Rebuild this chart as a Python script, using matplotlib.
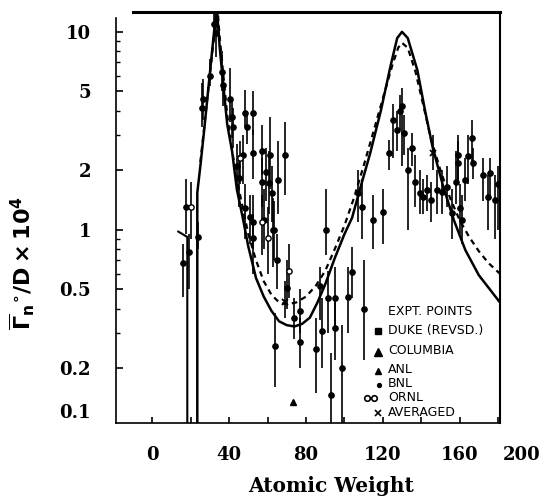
from matplotlib import pyplot as plt
from matplotlib.ticker import FixedLocator, NullFormatter
import numpy as np

# s-wave strength function vs atomic weight

# theory curves
solid_A = [23.4, 23.4, 25, 27, 29, 31, 33.5, 35, 37, 39, 41.5, 44, 47, 50, 54, 58, 62, 66,
           70, 74, 78, 82, 86, 90, 95, 100, 104, 108, 113.5, 119, 124, 127.5, 130, 133,
           138, 142, 146, 151.5, 157, 163, 170, 181]
solid_val = [0.09, 1.54, 2.1, 3.2, 5.0, 7.8, 13.5, 8.5, 5.3, 3.4, 2.5, 1.6, 1.16, 0.82,
             0.57, 0.46, 0.39, 0.345, 0.33, 0.325, 0.335, 0.36, 0.43, 0.53, 0.72, 0.95,
             1.15, 1.59, 2.45, 4.0, 6.7, 9.3, 10.0, 9.3, 6.4, 4.0, 2.6, 1.65, 1.12, 0.79,
             0.59, 0.43]

dash_A = [25, 27, 29, 31, 33, 34, 35, 37, 39, 41, 44, 47, 50, 54, 58, 62, 66, 70, 75, 80,
          85, 90, 95, 100, 105, 110, 115, 120, 125, 128, 130, 133, 137, 141, 145, 150,
          155, 160, 165, 170, 175, 181]
dash_val = [2.2, 3.3, 5.0, 7.5, 11.5, 13.0, 9.5, 6.0, 3.8, 2.7, 1.8, 1.3, 0.95, 0.7, 0.55,
            0.47, 0.43, 0.42, 0.43, 0.46, 0.52, 0.62, 0.8, 1.05, 1.45, 2.1, 3.1, 4.6, 6.8,
            8.3, 8.8, 8.3, 6.3, 4.3, 2.9, 2.0, 1.45, 1.12, 0.92, 0.78, 0.68, 0.6]

# low-A stub of the dashed curve
stub_A = [13.5, 18.2, 18.2]
stub_val = [0.98, 0.92, 0.09]

# BNL points: A, value, error bar low, error bar high
bnl_A = [16, 17.5, 19, 24, 26, 26.5, 30, 32, 33, 36.5, 37, 40.5, 41.5, 42, 44, 45,
         47, 48.4, 48.4, 49.5, 51, 52.6, 52.6, 52.6, 52.6, 57, 57, 58, 59, 60.5,
         61.5, 62.5, 63, 63.5, 64, 65, 65.6, 69, 70, 73.5, 77, 77, 85, 87.5, 88.5,
         90.6, 91.7, 93, 95, 95, 99, 102, 104, 107, 109, 110, 115, 120, 123, 125.5,
         127.6, 129, 130, 131, 133, 135, 137, 139.6, 141, 143, 145, 148, 151, 153.6,
         156, 158, 159, 159.4, 160, 161.5, 163, 164.6, 166.7, 167, 172, 175, 176,
         178.6, 180]
bnl_val = [0.68, 1.3, 0.77, 0.92, 4.1, 4.6, 6.0, 11.0, 9.9, 6.3, 5.4, 4.6, 3.7, 3.3, 2.1,
           1.83, 2.4, 3.9, 1.29, 3.3, 1.16, 3.9, 2.45, 1.1, 0.91, 2.5, 1.75, 1.12, 1.97,
           1.73, 2.4, 1.54, 1.0, 1.0, 0.26, 0.7, 1.79, 2.4, 0.51, 0.36, 0.39, 0.27, 0.25,
           0.52, 0.31, 1.0, 0.45, 0.147, 0.45, 0.32, 0.2, 0.46, 0.61, 1.54, 1.3, 0.4, 1.12,
           1.23, 2.45, 3.6, 3.2, 4.0, 4.2, 3.1, 2.0, 2.6, 1.75, 1.54, 1.47, 1.59, 1.42,
           1.59, 1.56, 1.65, 1.22, 1.75, 2.4, 2.18, 1.29, 1.12, 1.79, 2.35, 2.9, 2.18, 1.9,
           1.47, 1.94, 1.42, 1.7]
bnl_lo = [0.46, 0.95, 0.5, 0.8, 3.3, 3.6, 5.3, 9.0, 7.5, 5.0, 4.2, 3.5, 2.9, 2.6, 1.6, 1.3,
          1.7, 3.3, 0.9, 2.7, 0.85, 3.0, 1.8, 0.8, 0.6, 1.9, 1.3, 0.8, 1.4, 1.2, 1.6, 1.1,
          0.65, 0.7, 0.16, 0.5, 1.2, 1.5, 0.4, 0.28, 0.3, 0.2, 0.15, 0.35, 0.2, 0.75, 0.3,
          0.05, 0.33, 0.22, 0.05, 0.3, 0.45, 1.1, 0.9, 0.22, 0.8, 0.85, 2.0, 2.3, 2.5, 3.2,
          2.1, 2.4, 1.0, 2.1, 1.3, 1.2, 1.2, 1.25, 1.1, 1.2, 1.2, 1.3, 0.9, 1.35, 1.8, 1.7,
          0.95, 0.85, 1.4, 1.7, 2.2, 1.8, 1.4, 1.0, 1.5, 0.9, 1.0]
bnl_hi = [0.85, 1.8, 0.95, 1.1, 5.5, 5.8, 7.3, 12.6, 12.6, 8.0, 6.5, 6.6, 4.5, 4.1, 2.7,
          2.4, 3.0, 5.1, 1.7, 3.9, 1.5, 5.0, 3.2, 1.5, 1.2, 3.4, 2.3, 1.6, 2.6, 2.5, 3.7,
          2.1, 1.45, 1.4, 0.38, 0.95, 2.8, 3.5, 0.7, 0.45, 0.5, 0.36, 0.36, 0.65, 0.45, 1.6,
          0.62, 0.24, 0.65, 0.45, 0.33, 0.65, 0.82, 2.0, 1.8, 0.7, 1.5, 1.6, 2.85, 4.3, 4.0,
          4.8, 5.2, 3.8, 2.6, 3.1, 2.4, 2.0, 1.8, 1.9, 1.75, 2.0, 2.0, 2.1, 1.6, 2.5, 3.0,
          2.8, 1.7, 1.5, 2.3, 3.0, 3.6, 2.6, 2.3, 1.9, 2.3, 1.9, 2.1]

# ORNL points (open circles)
ornl_A = [20, 45.8, 57, 60, 71]
ornl_val = [1.3, 2.3, 1.1, 0.91, 0.62]
ornl_lo = [0.9, 1.7, 0.75, 0.6, 0.45]
ornl_hi = [1.75, 2.8, 1.5, 1.3, 0.85]

# averaged points
avg_A = [69, 146]
avg_val = [0.43, 2.45]
avg_lo = [0.36, 2.0]
avg_hi = [0.55, 3.0]

# ANL triangle
anl_A = [73]
anl_val = [0.135]

x_major = [0, 20, 40, 60, 80, 100, 120, 140, 160, 180]
x_labels = ['0', '', '40', '', '80', '', '120', '', '160', '']
y_major = [0.2, 0.5, 1, 2, 5, 10]
y_labels = ['0.2', '0.5', '1', '2', '5', '10']
y_minor = [0.3, 0.4, 0.6, 0.7, 0.8, 0.9, 3, 4, 6, 7, 8, 9]

legend_rows = ['DUKE (REVSD.)', 'COLUMBIA', 'ANL', 'BNL', 'ORNL', 'AVERAGED']

serif = {'family': 'DejaVu Serif', 'weight': 'bold', 'size': 13}

fig = plt.figure(figsize=(5.44, 4.98), dpi=100)
ax = fig.add_axes([0.213, 0.151, 0.706, 0.825])
ax.set_yscale('log')
ax.set_xlim(-19, 181)
ax.set_ylim(0.106, 12.6)

# curves
ax.plot(solid_A, solid_val, color='black', lw=1.8)
ax.plot(dash_A, dash_val, color='black', lw=1.6, ls=(0, (2.5, 2)))
ax.plot(stub_A, stub_val, color='black', lw=1.5)

# points
def bars(A, val, lo, hi):
    v = np.array(val)
    return [v - np.array(lo), np.array(hi) - v]

ax.errorbar(bnl_A, bnl_val, yerr=bars(bnl_A, bnl_val, bnl_lo, bnl_hi), fmt='o',
            color='black', ms=3.8, elinewidth=1.2, capsize=0)
ax.errorbar(ornl_A, ornl_val, yerr=bars(ornl_A, ornl_val, ornl_lo, ornl_hi), fmt='o',
            color='black', mfc='white', ms=3.8, mew=1.0, elinewidth=1.2, capsize=0)
ax.errorbar(avg_A, avg_val, yerr=bars(avg_A, avg_val, avg_lo, avg_hi), fmt='x',
            color='black', ms=5, mew=1.3, elinewidth=1.2, capsize=0)
ax.plot(anl_A, anl_val, '^', color='black', ms=5)

# spines
for s in ['left', 'bottom']:
    ax.spines[s].set_linewidth(1.2)
ax.spines['right'].set_linewidth(1.5)
ax.spines['top'].set_linewidth(2.2)
ax.spines['top'].set_bounds(-10, 181)
ax.spines['left'].set_bounds(0.106, 11.8)

# ticks
ax.xaxis.set_major_locator(FixedLocator(x_major))
ax.set_xticklabels(x_labels, fontdict=serif)
ax.yaxis.set_major_locator(FixedLocator(y_major))
ax.set_yticklabels(y_labels, fontdict=serif)
ax.yaxis.set_minor_locator(FixedLocator(y_minor))
ax.yaxis.set_minor_formatter(NullFormatter())
ax.tick_params(axis='x', which='both', direction='in', length=4, width=1.2, pad=17)
ax.tick_params(axis='y', which='major', direction='in', length=5, width=1.2, pad=18)
ax.tick_params(axis='y', which='minor', direction='in', length=3, width=1.0)
# labels that sit off the plotted range in the original
ax.text(1.057, -0.057, '200', transform=ax.transAxes, ha='center', va='top',
        clip_on=False, fontfamily='DejaVu Serif', fontweight='bold', fontsize=13)
ax.text(-0.067, 0.024, '0.1', transform=ax.transAxes, ha='right', va='center',
        clip_on=False, fontfamily='DejaVu Serif', fontweight='bold', fontsize=13)

# axis titles
fig.text(331 / 544, 1 - 486 / 498, 'Atomic Weight', ha='center', va='center',
         fontfamily='DejaVu Serif', fontweight='bold', fontsize=14.5)
fig.text(22 / 544, 1 - 263 / 498, r'$\mathbf{\overline{\Gamma}_n{}^{\circ}/D\times10^4}$',
         rotation=90, ha='center', va='center', fontsize=16)

# hand-drawn key
def ax_xy(px, py):
    return (px - 116) / 384, (423 - py) / 411

lab = dict(fontfamily='DejaVu Sans', fontsize=9, va='center', ha='left',
           transform=ax.transAxes)
ax.text(*ax_xy(388, 312), 'EXPT. POINTS', **lab)
row_y = [331, 351, 370, 384, 398, 413]
for name, py in zip(legend_rows, row_y):
    ax.text(*ax_xy(388, py), name, **lab)
key = dict(transform=ax.transAxes, color='black', clip_on=False)
ax.plot(*ax_xy(378, 331), 's', ms=4, **key)
ax.plot(*ax_xy(378, 352), '^', ms=5.5, **key)
ax.plot(*ax_xy(378, 371), '^', ms=4, **key)
ax.plot(*ax_xy(379, 385), 'o', ms=2.8, **key)
ax.plot(*ax_xy(367, 398), 'o', ms=4, mfc='white', mew=1.2, **key)
ax.plot(*ax_xy(374, 398), 'o', ms=4, mfc='white', mew=1.2, **key)
ax.plot(*ax_xy(378, 413), 'x', ms=4, mew=1.2, **key)

fig.savefig('out.png', dpi=100)
